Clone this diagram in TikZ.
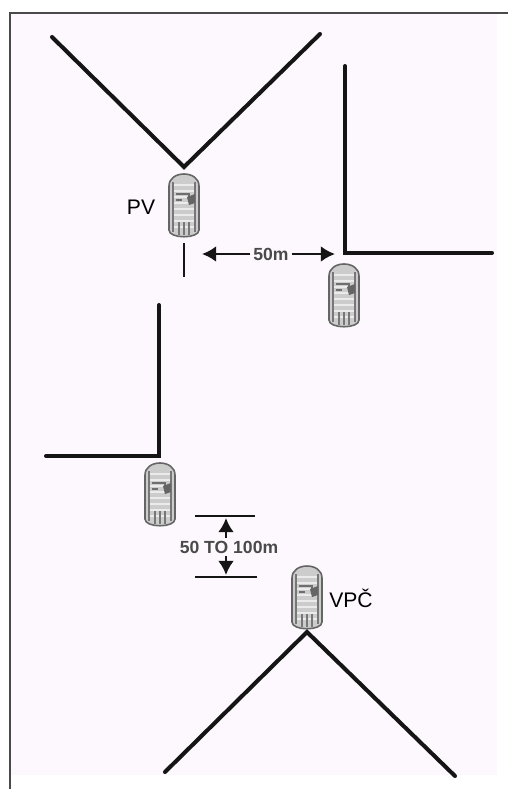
\documentclass[tikz,border=0pt]{standalone}
\usepackage{fontspec}
\setmainfont{Liberation Sans}
\usetikzlibrary{arrows.meta}
\definecolor{paper}{HTML}{FDF8FD}
\definecolor{wall}{HTML}{151515}
\definecolor{rim}{HTML}{4A4A4A}
\tikzset{
  road/.style={draw=wall, line width=2.3pt, line cap=round, line join=miter},
  gap/.style={draw=wall, line width=1pt},
  span/.style={draw=wall, line width=1.5pt, -{Latex[length=8pt,width=9pt]}},
  tag/.style={text=black, font=\fontsize{12}{14}\selectfont, inner sep=0pt},
  dim/.style={text=rim, font=\bfseries\fontsize{10}{12}\selectfont, inner sep=1.6pt},
  car/.pic={
    \fill[white!80!black] (-15,-20) .. controls (-15,-36) and (15,-36) .. (15,-20) -- (15,24) .. controls (15,33) and (-15,33) .. (-15,24) -- cycle;
    \foreach \y in {-21,-15,-9,-3,3,9,15,21} \draw[white!92!black, line width=.8pt] (-11,\y) -- (11,\y);
    \draw[rim!75, line width=.6pt] (-11,-24) -- (-11,26) (11,-24) -- (11,26) (-5,16) -- (-5,29) (0,16) -- (0,29) (5,16) -- (5,29);
    \draw[rim!80, line width=.7pt] (-8,-12) -- (5,-12) -- (5,-4) (-8,-6) -- (-2,-6);
    \fill[rim!85] (3,-9) -- (11,-12) -- (11,-3) -- (5,-1) -- cycle;
    \draw[rim!85, line width=.9pt] (-15,-20) .. controls (-15,-36) and (15,-36) .. (15,-20) -- (15,24) .. controls (15,33) and (-15,33) .. (-15,24) -- cycle;
  }
}
\begin{document}
\begin{tikzpicture}[x=0.02cm, y=-0.02cm]
\useasboundingbox (0,0) rectangle (508,789);
\fill[white] (0,0) rectangle (508,789);
\fill[paper] (10,13) rectangle (497,775);
\draw[draw=rim, line width=1.1pt] (10,789) -- (10,13) -- (508,13);
% top junction
\coordinate (topl) at (52,37);
\coordinate (topv) at (184,167);
\coordinate (topr) at (320,34);
\draw[road] (topl) -- (topv) -- (topr);
\coordinate (stopt) at (184,243);
\coordinate (stopb) at (184,277);
\draw[gap] (stopt) -- (stopb);
% corner on the right
\coordinate (rt) at (345,66);
\coordinate (rc) at (345,253);
\coordinate (rr) at (492,253);
\draw[road] (rt) -- (rc) -- (rr);
% corner on the left
\coordinate (lt) at (159,305);
\coordinate (lc) at (159,456);
\coordinate (ll) at (46,456);
\draw[road] (lt) -- (lc) -- (ll);
% bottom junction
\coordinate (botl) at (165,772);
\coordinate (botv) at (307,632);
\coordinate (botr) at (455,776);
\draw[road] (botl) -- (botv) -- (botr);
% vehicles
\pic at (184,206) {car};
\pic at (344,296) {car};
\pic at (160,495) {car};
\pic at (307,598) {car};
\node[tag] (pv) at (141,207) {PV};
\node[tag, anchor=west] (vpc) at (329,598) {VPČ};
% 50m span
\node[dim] (fifty) at (271,254) {50m};
\coordinate (spanl) at (202,254);
\coordinate (spanr) at (335,254);
\draw[span] (fifty) -- (spanl);
\draw[span] (fifty) -- (spanr);
% 50 to 100m span
\coordinate (upl) at (195,516);
\coordinate (upr) at (255,516);
\coordinate (lowl) at (195,577);
\coordinate (lowr) at (257,577);
\draw[gap] (upl) -- (upr);
\draw[gap] (lowl) -- (lowr);
\node[dim] (range) at (229,547) {50 TO 100m};
\coordinate (uptip) at (226,518);
\coordinate (lowtip) at (226,575);
\draw[span] (uptip |- range.north) -- (uptip);
\draw[span] (lowtip |- range.south) -- (lowtip);
\end{tikzpicture}
\end{document}
